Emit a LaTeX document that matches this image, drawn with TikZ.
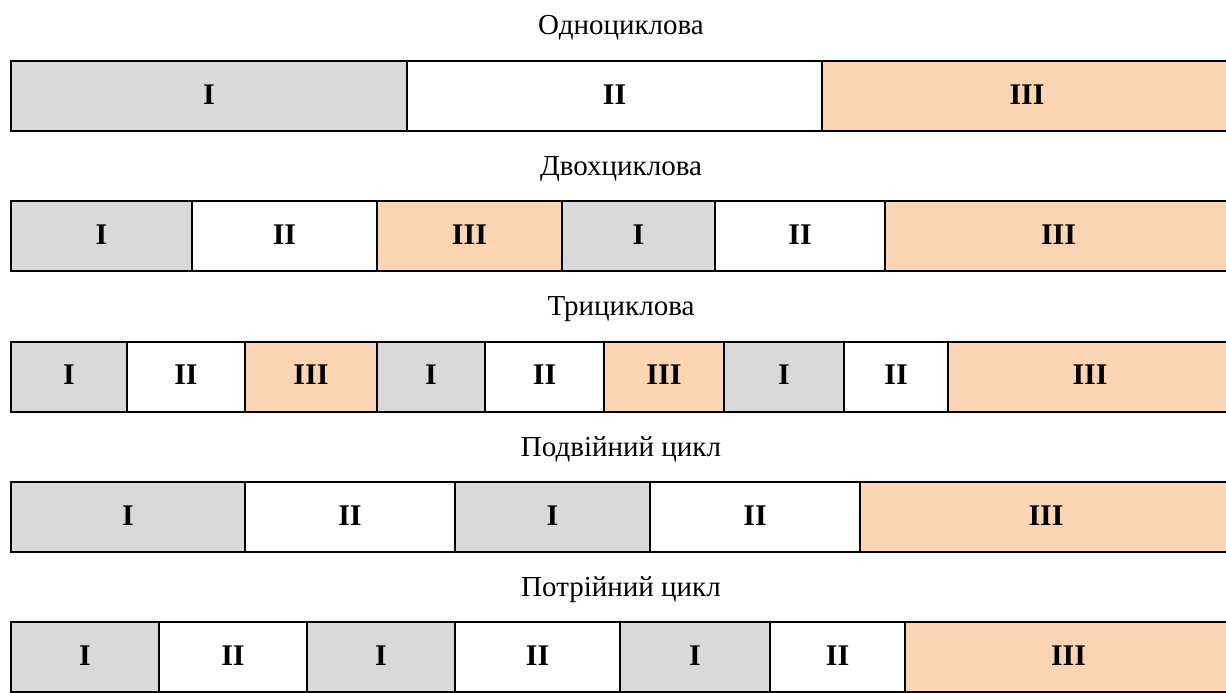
\documentclass[tikz,border=0pt]{standalone}
\usepackage{fontspec}
\setmainfont{Liberation Serif}
\definecolor{phasegray}{HTML}{D9D9D9}
\definecolor{phasepeach}{HTML}{FBD4B4}
\tikzset{
  cellbox/.style={draw=black, line width=2pt, rectangle, inner sep=0pt,
    minimum height=70pt, font=\fontsize{30}{32}\selectfont\bfseries},
  titletext/.style={anchor=base, inner sep=0pt, font=\fontsize{29}{32}\selectfont}
}
\newcommand\cyclecell[6]{%
  \node[cellbox, fill=#5, minimum width={#3-#2}] (#1) at ({(#2+#3)/2},{#4+35}) {\raisebox{3pt}{#6}};}
\begin{document}
\begin{tikzpicture}[x=1pt,y=-1pt]
\useasboundingbox (0,0) rectangle (1226,693);
\clip (0,0) rectangle (1226,693);
\fill[white] (0,0) rectangle (1226,693);
% titles
\node[titletext] (t1) at (621,35) {Одноциклова};
\node[titletext] (t2) at (621,175) {Двохциклова};
\node[titletext] (t3) at (621,315.5) {Трициклова};
\node[titletext] (t4) at (621,456) {Подвійний цикл};
\node[titletext] (t5) at (621,596) {Потрійний цикл};
% row 1
\cyclecell{a1}{11}{407}{61}{phasegray}{I}
\cyclecell{a2}{407}{822}{61}{white}{II}
\cyclecell{a3}{822}{1232}{61}{phasepeach}{III}
% row 2
\cyclecell{b1}{11}{192}{201}{phasegray}{I}
\cyclecell{b2}{192}{377}{201}{white}{II}
\cyclecell{b3}{377}{562}{201}{phasepeach}{III}
\cyclecell{b4}{562}{715}{201}{phasegray}{I}
\cyclecell{b5}{715}{885}{201}{white}{II}
\cyclecell{b6}{885}{1232}{201}{phasepeach}{III}
% row 3
\cyclecell{c1}{11}{127}{341.5}{phasegray}{I}
\cyclecell{c2}{127}{245}{341.5}{white}{II}
\cyclecell{c3}{245}{377}{341.5}{phasepeach}{III}
\cyclecell{c4}{377}{485}{341.5}{phasegray}{I}
\cyclecell{c5}{485}{604}{341.5}{white}{II}
\cyclecell{c6}{604}{724}{341.5}{phasepeach}{III}
\cyclecell{c7}{724}{844}{341.5}{phasegray}{I}
\cyclecell{c8}{844}{948}{341.5}{white}{II}
\cyclecell{c9}{948}{1232}{341.5}{phasepeach}{III}
% row 4
\cyclecell{d1}{11}{245}{482}{phasegray}{I}
\cyclecell{d2}{245}{455}{482}{white}{II}
\cyclecell{d3}{455}{650}{482}{phasegray}{I}
\cyclecell{d4}{650}{860}{482}{white}{II}
\cyclecell{d5}{860}{1232}{482}{phasepeach}{III}
% row 5
\cyclecell{e1}{11}{159}{622}{phasegray}{I}
\cyclecell{e2}{159}{307}{622}{white}{II}
\cyclecell{e3}{307}{455}{622}{phasegray}{I}
\cyclecell{e4}{455}{620}{622}{white}{II}
\cyclecell{e5}{620}{770}{622}{phasegray}{I}
\cyclecell{e6}{770}{905}{622}{white}{II}
\cyclecell{e7}{905}{1232}{622}{phasepeach}{III}
\end{tikzpicture}
\end{document}
